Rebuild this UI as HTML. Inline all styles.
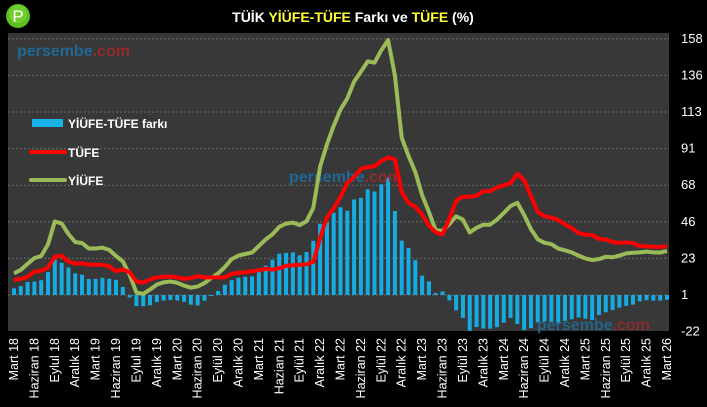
<!DOCTYPE html>
<html><head><meta charset="utf-8">
<style>
html,body{margin:0;padding:0;background:#000;}
svg{display:block;font-family:"Liberation Sans",sans-serif;}
</style></head>
<body>
<svg id="c" width="707" height="407" viewBox="0 0 707 407" xmlns="http://www.w3.org/2000/svg">
<rect width="707" height="407" fill="#000"/>
<circle cx="18" cy="16" r="12" fill="#5cbf1e"/>
<circle cx="18" cy="14" r="9" fill="#7fd83a" opacity="0.6"/>
<text x="18" y="22" text-anchor="middle" font-size="17" fill="#fff">P</text>
<text x="353" y="22" text-anchor="middle" font-size="14" font-weight="bold" fill="#fff">TÜİK <tspan fill="#ffff33">YİÜFE-TÜFE</tspan> Farkı ve <tspan fill="#ffff33">TÜFE</tspan> (%)</text>
<rect x="8" y="33" width="661" height="298" fill="#383838"/>
<g id="grid"></g>
<g id="bars"></g>
<text x="17" y="56" font-size="16" font-weight="bold" fill="#1f6f9f" opacity="0.9">persembe<tspan fill="#9e2a2b">.com</tspan></text>
<text x="289" y="182" font-size="16" font-weight="bold" fill="#1f6f9f" opacity="0.9">persembe<tspan fill="#9e2a2b">.com</tspan></text>
<text x="537" y="330" font-size="16" font-weight="bold" fill="#1f6f9f" opacity="0.8">persembe<tspan fill="#9e2a2b">.com</tspan></text>
<g id="lines"></g>
<rect x="32" y="119" width="31" height="8" fill="#1ab0e8"/>
<text x="68" y="128" font-size="12" font-weight="bold" fill="#fff">YİÜFE-TÜFE farkı</text>
<line x1="31" y1="152" x2="65" y2="152" stroke="#ff0000" stroke-width="4" stroke-linecap="round"/>
<text x="68" y="157" font-size="12" font-weight="bold" fill="#fff">TÜFE</text>
<line x1="31" y1="180" x2="65" y2="180" stroke="#9bbb59" stroke-width="4" stroke-linecap="round"/>
<text x="68" y="185" font-size="12" font-weight="bold" fill="#fff">YİÜFE</text>
<g id="yl"></g>
<g id="xl"></g>
</svg>
<script>
var T=[10.2,10.9,12.2,15.4,15.9,17.9,24.5,25.2,21.6,20.3,
20.4,19.7,19.7,19.5,18.7,15.7,16.7,15.0,9.3,8.6,10.6,11.8,
12.2,12.4,11.9,10.9,11.4,12.6,11.8,11.8,11.8,11.9,14.0,14.6,
15.0,15.6,16.2,17.1,16.6,17.5,19.0,19.3,19.6,19.9,21.3,36.1,
48.7,54.4,61.1,70.0,73.5,78.6,79.6,80.2,83.4,85.5,84.4,64.3,
57.7,55.2,50.5,43.7,39.6,38.2,47.8,58.9,61.5,61.4,62.0,64.8,
64.9,67.1,68.5,69.8,75.5,71.6,61.8,52.0,49.4,48.6,47.1,44.4,
42.1,39.1,38.1,37.9,35.4,35.1,33.5,33.0,33.3,32.9,31.1,30.9,
30.7,30.5,31.0];
var Y=[14.3,16.4,20.2,23.7,25.0,32.1,46.2,45.0,38.5,33.6,
32.9,29.6,29.6,30.1,28.7,25.0,21.7,13.5,2.5,1.7,4.3,7.4,
8.8,9.3,8.5,6.7,5.5,6.2,8.3,11.5,14.3,18.2,23.1,25.2,
26.2,27.1,31.2,35.2,38.3,42.9,44.9,45.5,44.0,46.3,54.6,79.9,
93.5,105.0,115.0,121.8,132.2,138.3,144.6,143.8,151.5,157.7,136.0,97.7,
86.5,76.6,62.4,52.1,40.8,40.4,44.5,49.4,47.4,39.4,42.3,44.2,
44.2,47.3,51.5,55.7,57.7,50.1,41.4,35.2,33.1,32.2,29.5,28.5,
27.2,25.2,23.5,22.5,23.1,24.5,24.2,25.2,26.6,27.0,27.2,27.7,
27.2,27.1,28.1];
function yv(v){return 295-(v-1)/22.5*36.6;}
function xv(i){return 14+i*653/96;}
var ns="http://www.w3.org/2000/svg";
function el(g,t,a,txt){var e=document.createElementNS(ns,t);for(var k in a)e.setAttribute(k,a[k]);if(txt)e.textContent=txt;document.getElementById(g).appendChild(e);return e;}
var ticks=[[158,158.5],[136,136],[113,113.5],[91,91],[68,68.5],[46,46],[23,23.5],[1,1],[-22,-21.5]];
ticks.forEach(function(t){var y=yv(t[1]);
 if(t[0]!=-22)el("grid","line",{x1:8,x2:669,y1:y,y2:y,stroke:"#6a6a6a","stroke-dasharray":"2,2","stroke-width":1});
 el("yl","text",{x:681,y:y+4,"font-size":13,fill:"#fff"},String(t[0]));});
var p1="",p2="";
for(var i=0;i<97;i++){var x=xv(i);var d=Y[i]-T[i];var y0=yv(1),y1=yv(1+d);
 el("bars","rect",{x:x-2,y:Math.min(y0,y1),width:4,height:Math.max(1,Math.abs(y1-y0)),fill:"#15ace4"});
 p1+=(i?"L":"M")+x.toFixed(1)+","+yv(T[i]).toFixed(1);
 p2+=(i?"L":"M")+x.toFixed(1)+","+yv(Y[i]).toFixed(1);}
el("lines","path",{d:p2,fill:"none",stroke:"#9bbb59","stroke-width":4,"stroke-linejoin":"round"});
el("lines","path",{d:p1,fill:"none",stroke:"#ff0000","stroke-width":4,"stroke-linejoin":"round"});
var L=["Mart 18","Haziran 18","Eylul 18","Aralık 18","Mart 19","Haziran 19","Eylul 19","Aralık 19","Mart 20","Haziran 20","Eylül 20","Aralık 20","Mart 21","Hazian 21","Eylül 21","Aralık 22","Mart 22","Haziran 22","Eylül 22","Aralık 22","Mart 23","Haziran 23","Eylül 23","Aralık 23","Mart 24","Haziran 24","Eylül 24","Aralık 24","Mart 25","Haziran 25","Eylül 25","Aralık 25","Mart 26"];
L.forEach(function(s,k){var x=xv(k*3)+4;
 el("xl","text",{x:0,y:0,"font-size":12.5,fill:"#fff","text-anchor":"end",transform:"translate("+x.toFixed(1)+",338) rotate(-90)"},s);});
</script>
</body></html>
